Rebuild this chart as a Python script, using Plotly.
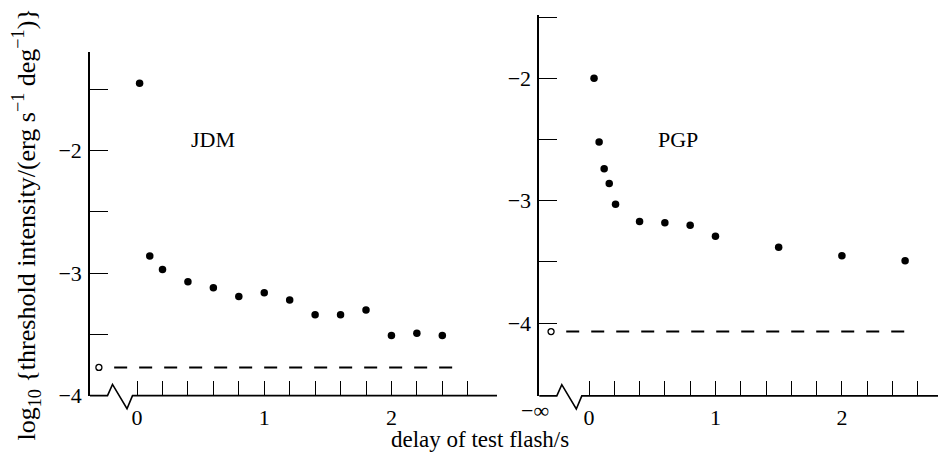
import plotly.graph_objects as go

# ---------------- data ----------------
jdm_delay = [0.02, 0.1, 0.2, 0.4, 0.6, 0.8, 1.0, 1.2, 1.4, 1.6, 1.8, 2.0, 2.2, 2.4]
jdm_log_thr = [-1.45, -2.86, -2.97, -3.07, -3.12, -3.19, -3.16, -3.22, -3.34, -3.34, -3.30, -3.51, -3.49, -3.51]
jdm_dark = -3.77

pgp_delay = [0.04, 0.08, 0.12, 0.16, 0.21, 0.4, 0.6, 0.8, 1.0, 1.5, 2.0, 2.5]
pgp_log_thr = [-2.0, -2.52, -2.74, -2.86, -3.03, -3.17, -3.18, -3.20, -3.29, -3.38, -3.45, -3.49]
pgp_dark = -4.07

x_tick_vals = [0, 1, 2]
x_tick_text = ["0", "1", "2"]
x_minor_vals = [0.2, 0.4, 0.6, 0.8, 1.2, 1.4, 1.6, 1.8, 2.2, 2.4, 2.6]
y_tick_vals = [-4, -3, -2]
y_tick_text = ["\u22124", "\u22123", "\u22122"]
y_minor_vals = [-3.5, -2.5, -1.5]

# ---------------- geometry / style ----------------
W, H = 938, 464
FONT = "Liberation Serif"
INF_POS = -0.3            # where the "-infinity" (dark adapted) point is drawn
DASH_X = [-0.18, 2.54]    # extent of the dark-threshold dashed line

L_XRANGE = [-0.37, 2.83]
L_YRANGE = [-4.0, -1.19]
L_XDOM = [90 / W, 497 / W]
L_YDOM = [1 - 407 / H, 1 - 53 / H]

R_XRANGE = [-0.393, 2.76]
R_YRANGE = [-4.595, -1.48]
R_XDOM = [539.3 / W, 1.0]
R_YDOM = [1 - 407.3 / H, 1 - 15 / H]

fig = go.Figure()

def add_panel(xa, ya, delay, vals, dark):
    fig.add_trace(go.Scatter(x=delay, y=vals, xaxis=xa, yaxis=ya, mode="markers",
                             marker=dict(color="black", size=7.5), showlegend=False,
                             cliponaxis=False))
    fig.add_trace(go.Scatter(x=[INF_POS], y=[dark], xaxis=xa, yaxis=ya, mode="markers",
                             marker=dict(color="white", size=6, line=dict(color="black", width=1.3)),
                             showlegend=False, cliponaxis=False))
    fig.add_trace(go.Scatter(x=DASH_X, y=[dark, dark], xaxis=xa, yaxis=ya, mode="lines",
                             line=dict(color="black", width=2, dash="13px,12px"),
                             showlegend=False))

add_panel("x", "y", jdm_delay, jdm_log_thr, jdm_dark)
add_panel("x2", "y2", pgp_delay, pgp_log_thr, pgp_dark)

tickfont = dict(family=FONT, size=22, color="black")

def xaxis_cfg(rng, dom, anchor):
    return dict(range=rng, domain=dom, anchor=anchor, showgrid=False, zeroline=False,
                showline=False, ticks="inside", ticklen=15, tickwidth=1.3, tickcolor="black",
                tickvals=x_tick_vals, ticktext=x_tick_text, tickfont=tickfont,
                ticklabelstandoff=6,
                minor=dict(tickvals=x_minor_vals, ticks="inside", ticklen=15,
                           tickwidth=1.3, tickcolor="black", showgrid=False))

def yaxis_cfg(rng, dom, anchor):
    return dict(range=rng, domain=dom, anchor=anchor, showgrid=False, zeroline=False,
                showline=True, linecolor="black", linewidth=1.6,
                ticks="inside", ticklen=18, tickwidth=1.3, tickcolor="black",
                tickvals=y_tick_vals, ticktext=y_tick_text, tickfont=tickfont,
                ticklabelstandoff=2,
                minor=dict(tickvals=y_minor_vals, ticks="inside", ticklen=18,
                           tickwidth=1.3, tickcolor="black", showgrid=False))

# helpers: data -> paper coordinates for axis decorations that extend outside the plot area
def to_paper(v, rng, dom):
    return dom[0] + (v - rng[0]) / (rng[1] - rng[0]) * (dom[1] - dom[0])

def broken_axis_path(xr, xd, yr, yd, y0):
    yb = to_paper(y0, yr, yd)
    ppx = 1.0 / W
    ppy = 1.0 / H
    x0 = xd[0]
    pts = [
        (x0, yb),
        (x0 + 17.5 * ppx, yb),
        (x0 + 22.5 * ppx, yb + 11.5 * ppy),
        (x0 + 37.0 * ppx, yb - 13.5 * ppy),
        (x0 + 42.5 * ppx, yb),
        (xd[1], yb),
    ]
    path = "M " + " L ".join(f"{px:.5f},{py:.5f}" for px, py in pts)
    return dict(type="path", path=path, xref="paper", yref="paper",
                line=dict(color="black", width=1.6), layer="above")

shapes = [
    broken_axis_path(L_XRANGE, L_XDOM, L_YRANGE, L_YDOM, L_YRANGE[0]),
    broken_axis_path(R_XRANGE, R_XDOM, R_YRANGE, R_YDOM, R_YRANGE[0]),
]

annotations = [
    dict(text="JDM", x=0.6, y=-1.905, xref="x", yref="y", showarrow=False,
         xanchor="center", yanchor="middle",
         font=dict(family=FONT, size=22, color="black")),
    dict(text="PGP", x=0.7, y=-2.5, xref="x2", yref="y2", showarrow=False,
         xanchor="center", yanchor="middle",
         font=dict(family=FONT, size=22, color="black")),
    dict(text="\u2212\u221e", x=535 / W, y=1 - 422 / H, xref="paper", yref="paper",
         xanchor="center", yanchor="middle",
         showarrow=False, font=dict(family=FONT, size=22, color="black")),
    dict(text="delay of test flash/s", x=479.5 / W, y=1 - 452 / H, xref="paper", yref="paper",
         xanchor="center", yanchor="middle",
         showarrow=False, font=dict(family=FONT, size=23, color="black")),
    dict(text="log<sub>10</sub> {threshold intensity/(erg s<sup>\u22121</sup> deg<sup>\u22121</sup>)}",
         x=26 / W, y=1 - 231 / H, xref="paper", yref="paper", textangle=-90,
         xanchor="center", yanchor="middle",
         showarrow=False, font=dict(family=FONT, size=26, color="black")),
]

fig.update_layout(
    width=W, height=H,
    margin=dict(l=0, r=0, t=0, b=0),
    paper_bgcolor="white", plot_bgcolor="white",
    xaxis=xaxis_cfg(L_XRANGE, L_XDOM, "y"),
    yaxis=yaxis_cfg(L_YRANGE, L_YDOM, "x"),
    xaxis2=xaxis_cfg(R_XRANGE, R_XDOM, "y2"),
    yaxis2=yaxis_cfg(R_YRANGE, R_YDOM, "x2"),
    shapes=shapes,
    annotations=annotations,
    showlegend=False,
)

fig.write_html("out.html", config={"displayModeBar": False},
               post_script="document.body.style.margin='0';")
